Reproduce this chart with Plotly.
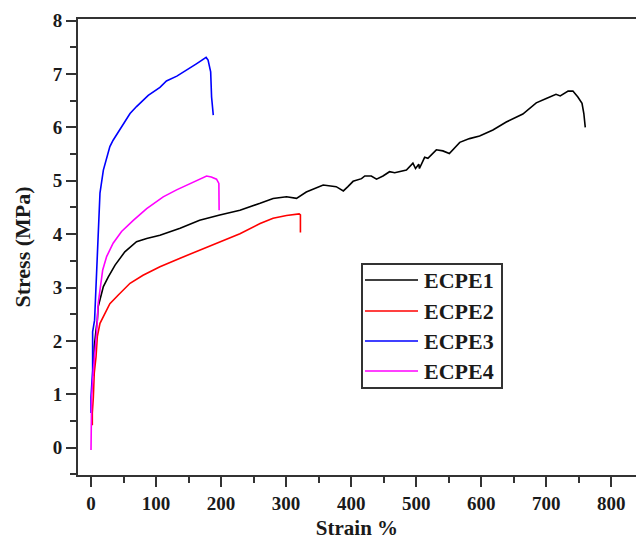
import plotly.graph_objects as go

# Stress-strain curves for the four ECPE samples
series_names = ["ECPE1", "ECPE2", "ECPE3", "ECPE4"]
series_colors = ["#000000", "#ff0000", "#0000ff", "#ff00ff"]

ecpe1_strain = [4, 5, 7.7, 9.7, 11, 15, 19, 26.6, 37, 52, 70, 85.6, 106, 137, 167, 198, 229,
                260, 280, 300.6, 316, 331, 357, 377, 388, 395, 403, 416, 421, 431, 439, 449,
                459, 467, 475, 485, 495, 499, 504, 505, 513, 518, 531, 541, 551, 559, 567,
                582, 597.5, 618, 638.5, 664, 684.6, 700, 715, 721.5, 733.6, 741, 748.6, 755,
                757.8, 760]
ecpe1_stress = [1.35, 1.89, 2.2, 2.39, 2.64, 2.83, 3.02, 3.2, 3.42, 3.67, 3.86, 3.92, 3.98,
                4.11, 4.26, 4.36, 4.45, 4.58, 4.67, 4.70, 4.67, 4.79, 4.92, 4.89, 4.81, 4.89,
                4.99, 5.04, 5.09, 5.09, 5.03, 5.09, 5.17, 5.15, 5.17, 5.20, 5.33, 5.23, 5.31,
                5.23, 5.44, 5.42, 5.58, 5.56, 5.51, 5.61, 5.72, 5.79, 5.84, 5.95, 6.10, 6.25,
                6.46, 6.54, 6.62, 6.59, 6.68, 6.68, 6.57, 6.45, 6.26, 6.00]

ecpe2_strain = [2, 2, 3.6, 5, 7.7, 9.7, 13.8, 21.5, 29, 42, 60, 80, 106, 137, 167, 198, 229,
                260, 280, 300.6, 320, 322, 322]
ecpe2_stress = [0.42, 0.65, 0.95, 1.4, 1.7, 2.08, 2.33, 2.52, 2.7, 2.86, 3.08, 3.23, 3.39,
                3.55, 3.70, 3.86, 4.01, 4.20, 4.30, 4.35, 4.38, 4.36, 4.03]

ecpe3_strain = [0, 0, 2.5, 2.5, 5.5, 7.5, 9.5, 11.5, 13.8, 19, 29, 34, 47, 60, 70, 88, 106,
                116, 132, 147, 162, 177, 180, 184, 185.4, 188]
ecpe3_stress = [0.65, 0.95, 1.45, 2.17, 2.39, 3.05, 3.65, 4.17, 4.77, 5.2, 5.64, 5.76, 6.01,
                6.26, 6.39, 6.6, 6.75, 6.87, 6.96, 7.07, 7.19, 7.31, 7.26, 7.04, 6.57, 6.23]

ecpe4_strain = [0, 1, 3.6, 8.7, 11, 13.8, 18, 24, 34, 47, 65, 85.6, 111, 131.6, 157, 177.7,
                185, 193, 196.6, 197]
ecpe4_stress = [-0.04, 0.95, 1.45, 2.17, 2.7, 2.95, 3.33, 3.58, 3.83, 4.05, 4.26, 4.48, 4.70,
                4.83, 4.98, 5.09, 5.07, 5.03, 4.95, 4.45]

strains = [ecpe1_strain, ecpe2_strain, ecpe3_strain, ecpe4_strain]
stresses = [ecpe1_stress, ecpe2_stress, ecpe3_stress, ecpe4_stress]

W, H = 636, 545
M_L, M_R, M_T, M_B = 78, 0, 19, 70
FONT = "Liberation Serif"
AXIS_COLOR = "#333333"
TEXT_COLOR = "#1a1a1a"

fig = go.Figure()
for name, color, xs, ys in zip(series_names, series_colors, strains, stresses):
    fig.add_trace(go.Scatter(x=xs, y=ys, mode="lines", name=name,
                             line=dict(color=color, width=1.6), showlegend=False))

axis_common = dict(
    showgrid=False, zeroline=False, showline=True, linecolor=AXIS_COLOR, linewidth=2,
    ticks="outside", ticklen=10, tickwidth=2, tickcolor=AXIS_COLOR,
    tickfont=dict(family=FONT, size=19, color=TEXT_COLOR),
    tickprefix="<b>", ticksuffix="</b>",
)

fig.update_xaxes(
    range=[-20, 838], dtick=100, tick0=0, mirror=True,
    minor=dict(dtick=50, tick0=0, ticks="outside", ticklen=6, tickwidth=2, tickcolor=AXIS_COLOR),
    title=dict(text="<b>Strain %</b>", font=dict(family=FONT, size=21, color=TEXT_COLOR), standoff=8),
    **axis_common,
)
fig.update_yaxes(
    range=[-0.51, 8.03], dtick=1, tick0=0, mirror=False,
    minor=dict(dtick=0.5, tick0=0, ticks="outside", ticklen=6, tickwidth=2, tickcolor=AXIS_COLOR),
    title=dict(text="<b>Stress (MPa)</b>", font=dict(family=FONT, size=22, color=TEXT_COLOR), standoff=16),
    **axis_common,
)

# Hand-drawn legend box with longer line samples
plot_w = W - M_L - M_R
plot_h = H - M_T - M_B


def px_x(px):
    return (px - M_L) / plot_w


def px_y(py):
    return (H - M_B - py) / plot_h


fig.add_shape(type="rect", xref="paper", yref="paper",
              x0=px_x(362), x1=px_x(502), y0=px_y(388), y1=px_y(264),
              line=dict(color=AXIS_COLOR, width=2), fillcolor="white", layer="above")
row_y = [280, 311, 341, 371]
for name, color, ry in zip(series_names, series_colors, row_y):
    fig.add_shape(type="line", xref="paper", yref="paper",
                  x0=px_x(365), x1=px_x(418), y0=px_y(ry), y1=px_y(ry),
                  line=dict(color=color, width=1.6), layer="above")
    fig.add_annotation(xref="paper", yref="paper", x=px_x(422), y=px_y(ry),
                       xanchor="left", yanchor="middle", showarrow=False,
                       text=f"<b>{name}</b>",
                       font=dict(family=FONT, size=22, color=TEXT_COLOR))

fig.update_layout(
    width=W, height=H,
    margin=dict(l=M_L, r=M_R, t=M_T, b=M_B),
    paper_bgcolor="white", plot_bgcolor="white",
)

fig.write_html("out.html")
